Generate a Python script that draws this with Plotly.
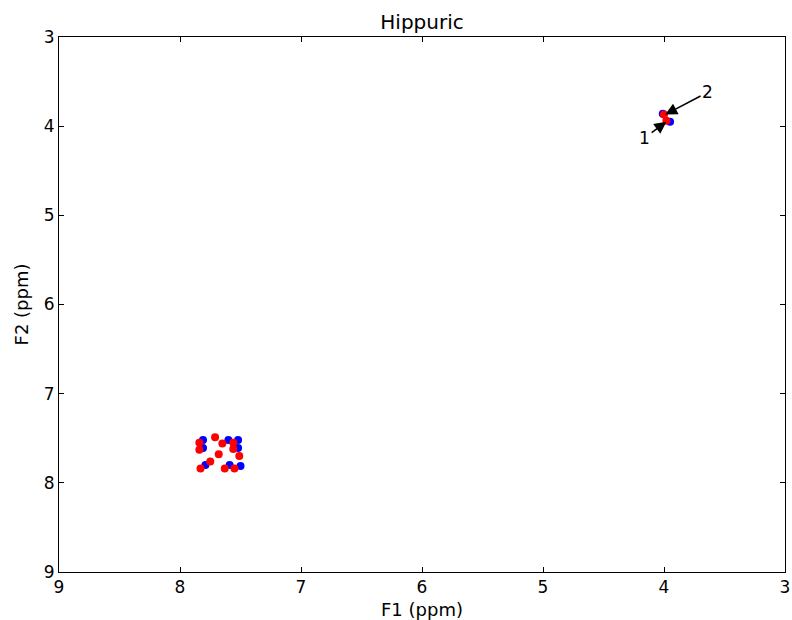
import plotly.graph_objects as go

title = "Hippuric"
x_label = "F1 (ppm)"
y_label = "F2 (ppm)"

red_f1 = [7.84, 7.84, 7.71, 7.65, 7.56, 7.56, 7.51, 7.68, 7.75, 7.83, 7.63, 7.55, 4.00, 3.98]
red_f2 = [7.55, 7.63, 7.49, 7.56, 7.55, 7.62, 7.70, 7.68, 7.76, 7.84, 7.84, 7.84, 3.87, 3.94]
blue_f1 = [7.81, 7.81, 7.60, 7.52, 7.52, 7.79, 7.59, 7.50, 4.01, 3.95]
blue_f2 = [7.52, 7.61, 7.52, 7.52, 7.61, 7.80, 7.80, 7.81, 3.86, 3.95]

labels = ["1", "2"]
label_f1 = [4.16, 3.64]
label_f2 = [4.13, 3.62]
target_f1 = [3.98, 3.99]
target_f2 = [3.95, 3.87]

x_ticks = [9, 8, 7, 6, 5, 4, 3]
y_ticks = [3, 4, 5, 6, 7, 8, 9]

fig = go.Figure()
fig.add_trace(go.Scatter(x=blue_f1, y=blue_f2, mode="markers",
                         marker=dict(color="#0000ff", size=8, line=dict(width=0)),
                         showlegend=False))
fig.add_trace(go.Scatter(x=red_f1, y=red_f2, mode="markers",
                         marker=dict(color="#ff0000", size=8, line=dict(width=0)),
                         showlegend=False))

for t, lx, ly, tx, ty in zip(labels, label_f1, label_f2, target_f1, target_f2):
    fig.add_annotation(x=tx, y=ty, ax=lx, ay=ly, axref="x", ayref="y",
                       xref="x", yref="y", text=t, showarrow=True,
                       arrowhead=2, arrowsize=1.6, arrowwidth=1.5,
                       arrowcolor="black",
                       font=dict(size=17, color="black", family="DejaVu Sans"))

axis_common = dict(showgrid=False, zeroline=False, showline=True, linecolor="black",
                   linewidth=1, mirror="ticks", ticks="inside", ticklen=5,
                   tickcolor="black", tickfont=dict(size=17, color="black"),
                   automargin=False)

fig.update_xaxes(range=[9, 3], tickvals=x_ticks, ticktext=[str(v) for v in x_ticks],
                 title=dict(text=x_label, font=dict(size=18, color="black"), standoff=6),
                 **axis_common)
fig.update_yaxes(range=[9, 3], tickvals=y_ticks, ticktext=[str(v) for v in y_ticks],
                 title=dict(text=y_label, font=dict(size=18, color="black"), standoff=10),
                 **axis_common)

fig.update_layout(
    width=792, height=620,
    margin=dict(l=59, r=7, t=37, b=48),
    paper_bgcolor="white", plot_bgcolor="white",
    font=dict(family="DejaVu Sans", color="black"),
    title=dict(text=title, x=0.5, xref="paper", xanchor="center",
               y=1 - 22 / 620, yref="container", yanchor="middle",
               font=dict(size=20, color="black")),
)

fig.write_html("out.html")
